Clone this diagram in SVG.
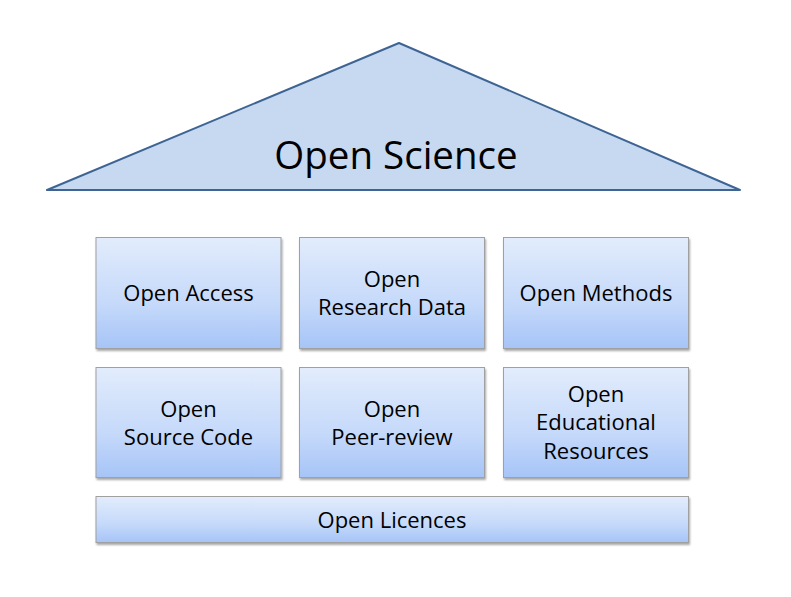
<svg xmlns="http://www.w3.org/2000/svg" width="791" height="597" viewBox="0 0 791 597">
<defs>
<linearGradient id="g" x1="0" y1="0" x2="0" y2="1">
<stop offset="0" stop-color="#e2ecfc"/>
<stop offset="0.6" stop-color="#c5d9fa"/>
<stop offset="1" stop-color="#a6c4f7"/>
</linearGradient>
<filter id="sh" x="-5%" y="-5%" width="115%" height="120%">
<feGaussianBlur in="SourceAlpha" stdDeviation="1.2"/>
<feOffset dx="1" dy="2" result="b"/>
<feComponentTransfer><feFuncA type="linear" slope="0.35"/></feComponentTransfer>
<feMerge><feMergeNode/><feMergeNode in="SourceGraphic"/></feMerge>
</filter>
</defs>
<style>
.box{fill:url(#g);stroke:#a0a0a0;stroke-width:1;filter:url(#sh)}
.t{font-family:"Open Sans","Noto Sans",sans-serif;font-size:22px;fill:#000;text-anchor:middle}
.big{font-family:"Open Sans","Noto Sans",sans-serif;font-size:38.5px;fill:#000;text-anchor:middle}
</style>
<rect width="791" height="597" fill="#fff"/>
<g id="roof">
<polygon points="399,43 47,190 740,190" fill="#c6d9f0" stroke="#3e6494" stroke-width="2" stroke-linejoin="round"/>
<text class="big" x="396" y="169">Open Science</text>
</g>
<g id="connectors"></g>
<g id="open-access"><rect class="box" x="96" y="237.5" width="185" height="111"/><text class="t" x="188.5" y="301">Open Access</text></g>
<g id="open-research-data"><rect class="box" x="299.5" y="237.5" width="185" height="111"/><text class="t" x="392" y="287">Open</text><text class="t" x="392" y="315">Research Data</text></g>
<g id="open-methods"><rect class="box" x="503.5" y="237.5" width="185" height="111"/><text class="t" x="596" y="301">Open Methods</text></g>
<g id="open-source-code"><rect class="box" x="96" y="367.5" width="185" height="110"/><text class="t" x="188.5" y="417">Open</text><text class="t" x="188.5" y="445">Source Code</text></g>
<g id="open-peer-review"><rect class="box" x="299.5" y="367.5" width="185" height="110"/><text class="t" x="392" y="417">Open</text><text class="t" x="392" y="445">Peer-review</text></g>
<g id="open-educational-resources"><rect class="box" x="503.5" y="367.5" width="185" height="110"/><text class="t" x="596" y="402">Open</text><text class="t" x="596" y="430">Educational</text><text class="t" x="596" y="459">Resources</text></g>
<g id="open-licences"><rect class="box" x="96" y="496.5" width="592.5" height="46"/><text class="t" x="392" y="528">Open Licences</text></g>
</svg>
